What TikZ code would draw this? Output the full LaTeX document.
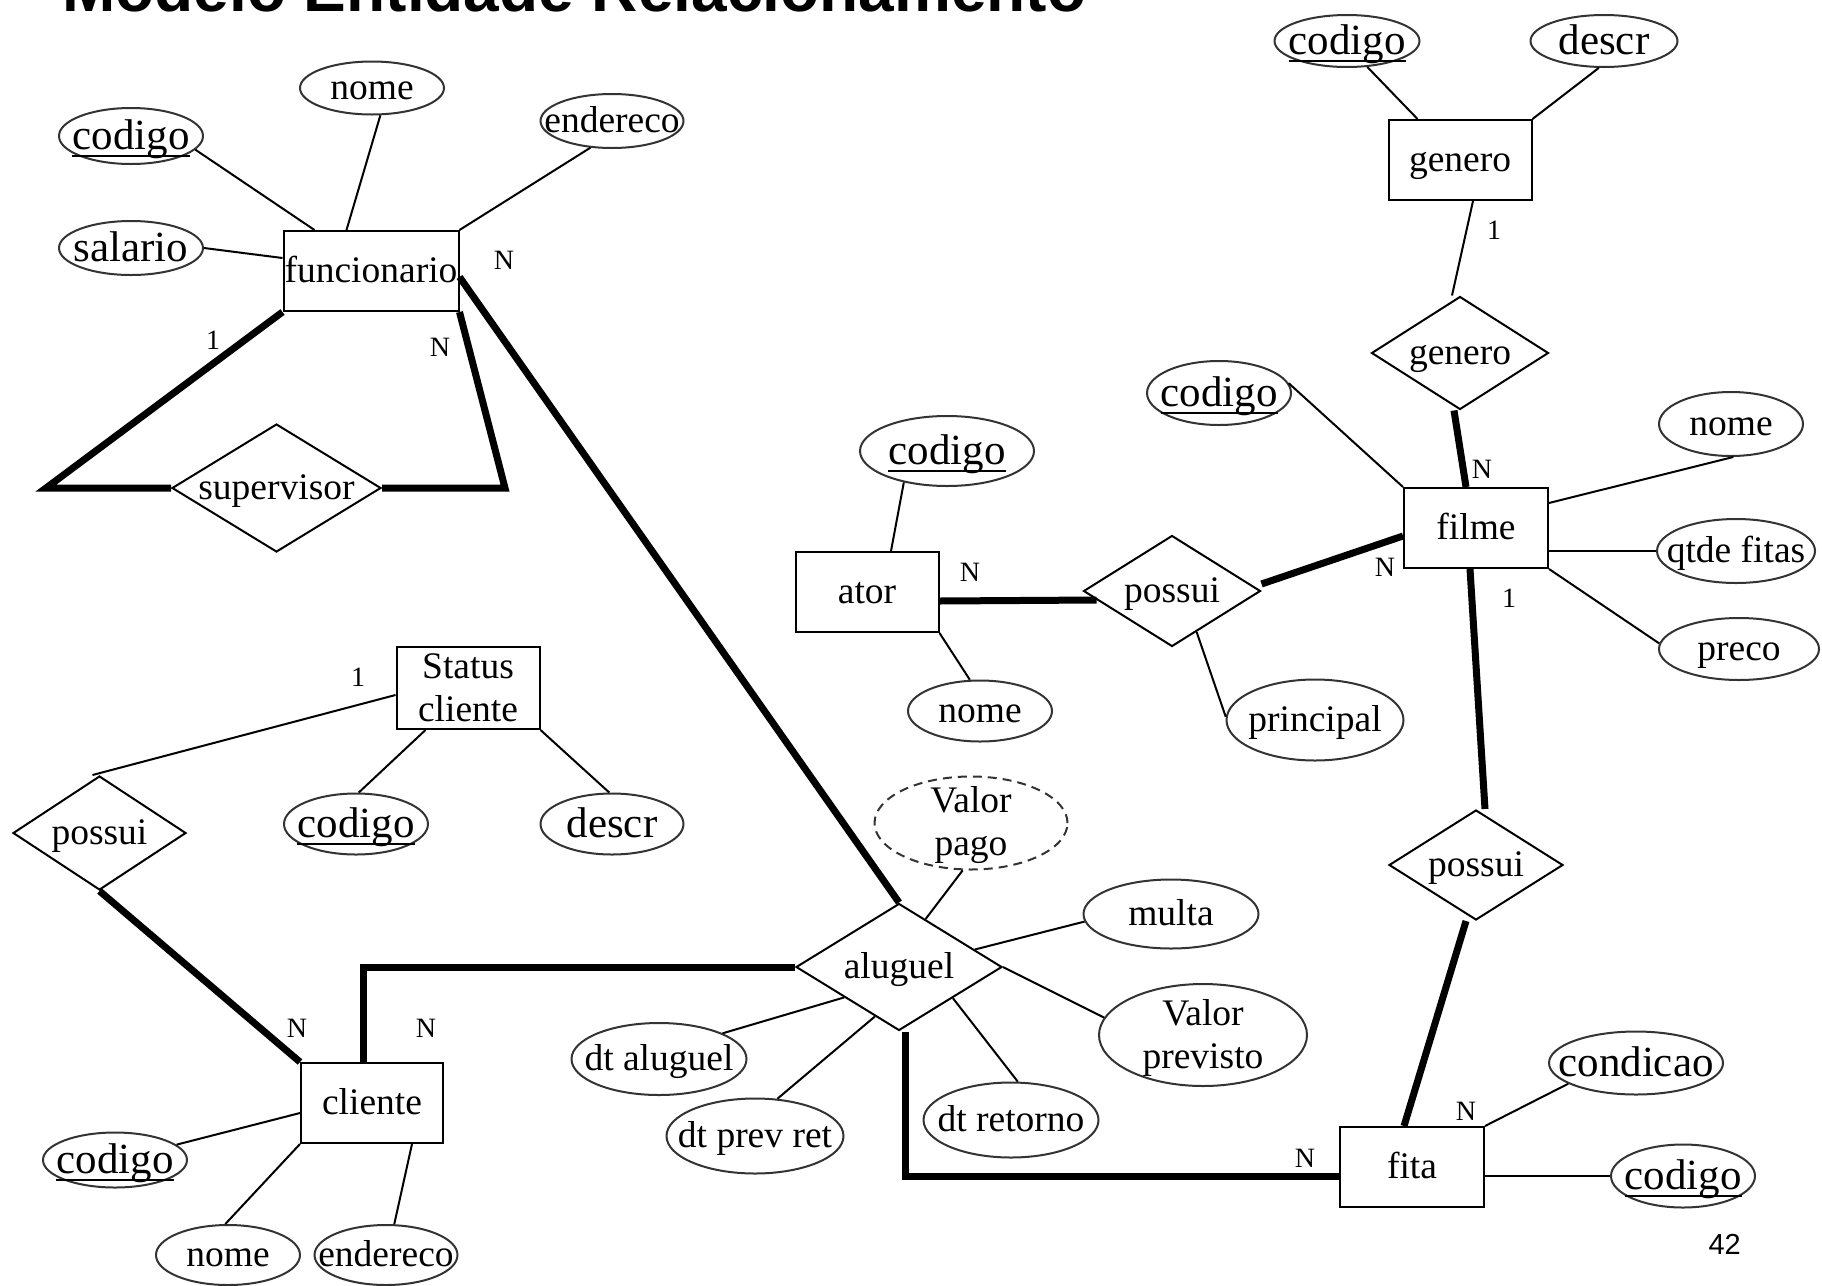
\documentclass[tikz,border=0pt]{standalone}
\usepackage{fontspec}
\setmainfont{Liberation Serif}
\newfontfamily\titlefont{Liberation Sans}
\usetikzlibrary{shapes.geometric,calc}
\newcommand\fn{\fontsize{37.5}{43}\selectfont}
\newcommand\fb{\fontsize{43}{48}\selectfont}
\newcommand\fc{\fontsize{28}{32}\selectfont}
\newcommand\ulc[1]{\setbox0\hbox{#1}\rlap{\rule[-8pt]{\wd0}{2pt}}\box0}
\newcommand\twol[2]{\rule{0pt}{31pt}#1\\#2\rule[-7.5pt]{0pt}{7.5pt}}
\begin{document}
\begin{tikzpicture}[x=1pt,y=-1pt,
 entbox/.style={draw, line width=2, minimum width=143, minimum height=80, inner sep=0, font=\fn, align=center},
 ent/.style={entbox, text height=31pt, text depth=7.5pt},
 rel/.style={diamond, draw, line width=2, inner sep=0},
 attr/.style={ellipse, draw=black!80, line width=2, inner sep=0},
 txt/.style={font=\fn, inner sep=0, align=center, text height=31pt, text depth=7.5pt},
 txttwo/.style={font=\fn, inner sep=0, align=center},
 big/.style={font=\fb, inner sep=0, text height=35pt, text depth=8.6pt},
 card/.style={font=\fc, inner sep=0},
 con/.style={line width=2},
 strong/.style={line width=7},
]
\useasboundingbox (0,0) rectangle (1822,1285);
\clip (0,0) rectangle (1822,1285);

\node[anchor=base west, inner sep=0, font=\titlefont\bfseries\fontsize{64}{70}\selectfont] (title) at (62,11) {Modelo Entidade Relacionamento};
\node[anchor=base east, inner sep=0, font=\titlefont\fontsize{29}{32}\selectfont] (pg) at (1741,1254) {42};

% entities
\node[ent, minimum width=175] (func) at (371,271) {funcionario};
\node[ent] (gent) at (1460,160) {genero};
\node[ent, minimum width=144] (filme) at (1476,528) {filme};
\node[ent] (ator) at (867,592) {ator};
\node[entbox, minimum height=82] (stat) at (468,688) {\twol{Status}{cliente}};
\node[ent, minimum width=142] (cli) at (372,1103) {cliente};
\node[ent, minimum width=144] (fita) at (1412,1167) {fita};

% relationships
\node[rel, minimum width=209, minimum height=128, label={[txt]center:supervisor}] (sup) at (276.5,488) {};
\node[rel, minimum width=177, minimum height=113, label={[txt]center:genero}] (grel) at (1460,353) {};
\node[rel, minimum width=177, minimum height=111, label={[txt]center:possui}] (p1) at (1172,591) {};
\node[rel, minimum width=173, minimum height=114, label={[txt]center:possui}] (p2) at (99.5,833) {};
\node[rel, minimum width=206, minimum height=127, label={[txt]center:aluguel}] (alug) at (899,967) {};
\node[rel, minimum width=174, minimum height=110, label={[txt]center:possui}] (p3) at (1476,865) {};

% attributes
\node[attr, minimum width=144, minimum height=56, label={[big]center:\ulc{codigo}}] (fcod) at (131,136) {};
\node[attr, minimum width=144, minimum height=53, label={[txt]center:nome}] (fnome) at (372,88) {};
\node[attr, minimum width=143, minimum height=54, label={[txt]center:endereco}] (fend) at (612,121) {};
\node[attr, minimum width=144, minimum height=54, label={[big]center:salario}] (fsal) at (131,248) {};
\node[attr, minimum width=145, minimum height=52, label={[big]center:\ulc{codigo}}] (gcod) at (1347,41) {};
\node[attr, minimum width=147, minimum height=52, label={[big]center:descr}] (gdes) at (1604,41) {};
\node[attr, minimum width=144, minimum height=64, label={[big]center:\ulc{codigo}}] (fmcod) at (1219,393) {};
\node[attr, minimum width=144, minimum height=64, label={[txt]center:nome}] (fmnome) at (1731,424) {};
\node[attr, minimum width=158, minimum height=64, label={[txt]center:qtde fitas}] (qtde) at (1736,551) {};
\node[attr, minimum width=160, minimum height=62, label={[txt]center:preco}] (preco) at (1739,649) {};
\node[attr, minimum width=174, minimum height=70, label={[big]center:\ulc{codigo}}] (acod) at (947,451) {};
\node[attr, minimum width=144, minimum height=61, label={[txt]center:nome}] (anome) at (980,711) {};
\node[attr, minimum width=177, minimum height=81, label={[txt]center:principal}] (princ) at (1315,720) {};
\node[attr, minimum width=144, minimum height=61, label={[big]center:\ulc{codigo}}] (scod) at (356,824) {};
\node[attr, minimum width=143, minimum height=61, label={[big]center:descr}] (sdes) at (612,824) {};
\node[attr, dashed, dash pattern=on 9pt off 6pt, minimum width=193, minimum height=93, label={[txttwo]center:\twol{Valor}{pago}}] (vpago) at (971,823) {};
\node[attr, minimum width=175, minimum height=69, label={[txt]center:multa}] (multa) at (1171,914) {};
\node[attr, minimum width=208, minimum height=102, label={[txttwo]center:\twol{Valor}{previsto}}] (vprev) at (1203,1035) {};
\node[attr, minimum width=175, minimum height=72, label={[txt]center:dt aluguel}] (dalug) at (659,1059) {};
\node[attr, minimum width=177, minimum height=75, label={[txt]center:dt prev ret}] (dprev) at (755,1136) {};
\node[attr, minimum width=175, minimum height=75, label={[txt]center:dt retorno}] (dret) at (1011,1120) {};
\node[attr, minimum width=174, minimum height=63, label={[big]center:condicao}] (cond) at (1636,1063) {};
\node[attr, minimum width=144, minimum height=63, label={[big]center:\ulc{codigo}}] (ftcod) at (1683,1176) {};
\node[attr, minimum width=144, minimum height=55, label={[big]center:\ulc{codigo}}] (ccod) at (115,1160) {};
\node[attr, minimum width=144, minimum height=60, label={[txt]center:nome}] (cnome) at (228,1255) {};
\node[attr, minimum width=143, minimum height=60, label={[txt]center:endereco}] (cend) at (386,1255) {};

% free corners
\coordinate (sl) at (46,488);
\coordinate (sr) at (505,488);

% funcionario
\draw[con] (fcod.-12) -- ([xshift=32]func.north west);
\draw[con] (fnome.-73) -- ([xshift=64]func.north west);
\draw[con] (fend.-129) -- (func.north east);
\draw[con] (fsal.east) -- ([yshift=13]func.west);
\draw[strong] (func.south west) -- (sl) -- (sup.west);
\draw[strong] (func.south east) -- (sr) -- (sup.east);
\draw[strong] ([yshift=-6]func.east) -- (alug.north);

% genero
\draw[con] (gcod.-52) -- ([xshift=30]gent.north west);
\draw[con] (gdes.-101) -- (gent.north east);
\draw[con] ([xshift=13]gent.south) -- ([xshift=-8]grel.north);
\draw[strong] ([xshift=-6]grel.south) -- ([xshift=-10]filme.north);

% filme
\draw[con] (fmcod.8) -- (filme.north west);
\draw[con] (fmnome.-86) -- ([yshift=25]filme.east);
\draw[con] (qtde.west -| filme.east) -- (qtde.west);
\draw[con] (preco.176) -- (filme.south east);
\draw[strong] ([yshift=-8]filme.west) -- ([yshift=7]p1.east);
\draw[strong] ([xshift=-6]filme.south) -- ([xshift=9]p3.north);

% ator
\draw[con] (acod.-144) -- ([xshift=24]ator.north);
\draw[con] (anome.108) -- (ator.south east);
\draw[strong] ([yshift=-9]ator.east) -- ([yshift=-9,xshift=14]p1.west);
\draw[con] (p1.-59) -- (princ.178);

% status cliente
\draw[con] ([yshift=-7]stat.west) -- ([xshift=-7]p2.north);
\draw[con] (scod.85) -- ([xshift=30]stat.south west);
\draw[con] (sdes.95) -- (stat.south east);
\draw[strong] (p2.south) -- (cli.north west);

% cliente
\draw[strong] ([xshift=63]cli.north west) |- (alug.west);
\draw[con] (ccod.14) -- ([yshift=-10]cli.west);
\draw[con] (cnome.95) -- (cli.south west);
\draw[con] (cend.75) -- ([xshift=40]cli.south);

% aluguel
\draw[strong] ([xshift=6]alug.south) |- ([yshift=-9]fita.west);
\draw[con] (vpago.-100) -- (alug.61);
\draw[con] (multa.185) -- (alug.13);
\draw[con] (vprev.170) -- (alug.east);
\draw[con] (dalug.22) -- (alug.209);
\draw[con] (dprev.59) -- (alug.244);
\draw[con] (dret.80) -- (alug.-30);

% fita
\draw[strong] ([xshift=-10]p3.south) -- ([xshift=-8]fita.north);
\draw[con] (cond.197) -- (fita.north east);
\draw[con] (ftcod.west -| fita.east) -- (ftcod.west);

% cardinalities
\node[card] (c1) at (213,340) {1};
\node[card] (c2) at (440,347) {N};
\node[card] (c3) at (504,260) {N};
\node[card] (c4) at (1494,230) {1};
\node[card] (c5) at (1482,469) {N};
\node[card] (c6) at (1385,567) {N};
\node[card] (c7) at (1509,598) {1};
\node[card] (c8) at (970,572) {N};
\node[card] (c9) at (358,677) {1};
\node[card] (c10) at (297,1028) {N};
\node[card] (c11) at (426,1028) {N};
\node[card] (c12) at (1305,1158) {N};
\node[card] (c13) at (1466,1111) {N};
\end{tikzpicture}
\end{document}
